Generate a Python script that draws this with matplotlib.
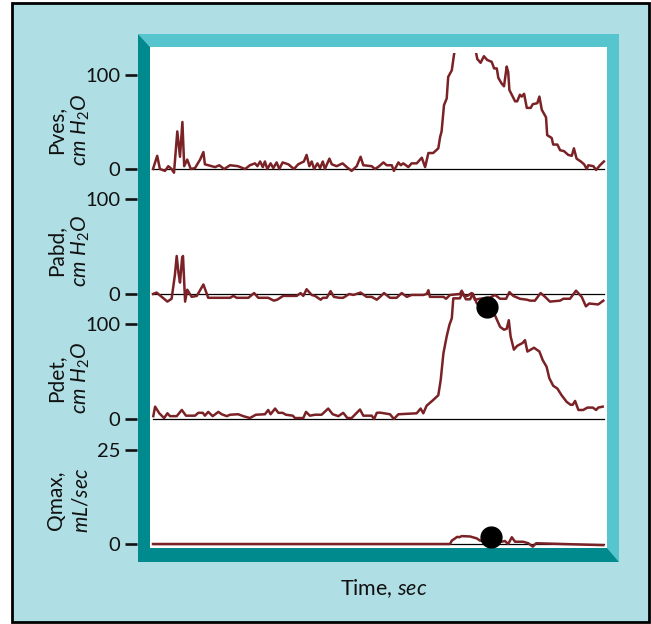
import matplotlib
matplotlib.use('Agg')
import matplotlib.pyplot as plt
from matplotlib.patches import Polygon, Rectangle

# urodynamic pressure-flow traces, time in sec
plt.rcParams['font.family'] = ['Lato', 'DejaVu Sans']
plt.rcParams['mathtext.fontset'] = 'custom'
plt.rcParams['mathtext.rm'] = 'Lato'
plt.rcParams['mathtext.it'] = 'Lato:italic'

pves_t = [0, 1.4, 2.3, 4, 5.1, 6.2, 7, 8.1, 9, 9.8, 10.4, 11.4, 12.6, 14, 15.7, 16.8, 17.3,
          19.6, 20.7, 22.1, 23.7, 25.7, 28.3, 30.7, 32.3, 34, 34.8, 35.7, 36.6, 37.3, 38.1,
          39.2, 40.1, 41.2, 42.1, 43.2, 45.1, 47, 48.4, 50.3, 51.2, 52.1, 52.9, 53.7, 54.8,
          55.7, 56.6, 57.3, 58.8, 59.6, 61.2, 63.2, 64.6, 66.2, 67.9, 69.2, 70.1, 72.9, 74,
          75.4, 76.8, 77.9, 79.6, 80.3, 81.8, 82.6, 83.4, 84.3, 85.1, 86.2, 87.9, 89.6, 90.7,
          91.8, 93.4, 95.1, 95.7, 96.2, 97, 97.9, 98.4, 99.6, 100.3, 100.8, 104, 107.3, 108.1,
          109.2, 110.3, 111.4, 112.9, 113.7, 114.6, 115.1, 116.2, 117, 117.9, 118.4, 118.8,
          119.6, 120.7, 121.4, 122.3, 122.9, 123.7, 124.6, 125.9, 126.6, 128.1, 128.8, 129.6,
          131, 131.4, 132.9, 133.4, 134.8, 135.7, 137, 138.4, 139.6, 140.3, 141.2, 142.6,
          143.7, 144.6, 145.1, 146.8, 147.7, 149, 150.3]
pves = [0, 14, 0, -2, 3, 0, -4, 40, 13, 50, 3, 10, 0, 1, 10, 18, 5,
        3, 2, 4, 0, 4, 3, 0, 4, 6, 3, 8, 2, 8, 0,
        6, 1, 7, 0, 7, 5, 0, 5, 8, 15, 3, 8, 0, 6,
        1, 8, 0, 11, 5, 3, 6, 2, -2, 3, 13, 4, 3, 0,
        3, 7, 4, 4, -2, 7, 4, 6, 4, 2, 6, 6, 12, 2,
        17, 17, 22, 34, 40, 68, 75, 98, 105, 121, 130, 165, 130, 117,
        113, 120, 116, 114, 107, 107, 97, 91, 88, 109, 103, 84,
        79, 72, 72, 79, 77, 80, 65, 65, 69, 70, 77, 63,
        55, 36, 33, 26, 26, 20, 19, 15, 14, 22, 11, 8,
        5, 0, 4, 3, -1, 4, 8]

pabd_t = [0, 1.2, 2.9, 4.8, 6.2, 7.3, 7.9, 8.5, 9, 9.7, 10, 10.7, 11.4, 12.9, 14.6, 16.8,
          18.4, 25.7, 26.8, 27.9, 31.8, 33.7, 35.1, 38.4, 40.3, 41.4, 43.4, 47.9, 49.2, 50.1,
          51.2, 52.9, 54, 55.9, 56.6, 57.9, 59.2, 60.3, 62.1, 63.4, 65.4, 66.8, 69.2, 71.2,
          72.9, 74.6, 75.7, 77, 79, 81.2, 82.9, 84.6, 86.2, 90.1, 91.2, 91.8, 92.3, 96.8,
          97.7, 99, 102.3, 102.9, 103.7, 104.8, 106.2, 107.3, 109, 112.3, 114, 115.7, 117.7,
          118.8, 120.1, 122.3, 124.6, 125.7, 127.3, 129.2, 130.7, 132.3, 135.7, 136.8, 139,
          141, 142.9, 144.3, 145.4, 148.4, 150.1]
pabd = [0, 1.5, -3, -8, -5, 20, 40, 22, 12, 38, 40, -8, 4.5, -3, -2, 10,
        -4, -4, -2, -4, -4, 1, -4, -4, -7, -6, -2, -2, 1, -2,
        5, -1, -2, -6, -4, -4, 3, -3, -4, -4, 0, -1, 1.5, -3,
        -3, -6, -3, 1, -4, -4, 1, -3, -1, -1, 0, 4, -3, -3,
        -5, -1, 0, 3.5, -2, -2, 1, -6, -5, -4, -1, -5, -5,
        2, -2, -5, -6, -7, -7, 1, -3, -8, -7, -5, -5,
        3.5, -3, -13, -10, -11, -7]

pdet_t = [0.1, 0.7, 2.1, 3.7, 4.8, 5.7, 7.9, 9.6, 11, 14, 15.1, 16.6, 17.3, 18.4, 19.9,
          21.8, 22.9, 24.6, 25.7, 28.4, 30.1, 32.3, 34.3, 37.3, 38.4, 39.2, 40.7, 41.8, 43.2,
          44.3, 46.6, 47.3, 50.1, 51, 52.3, 54, 56.2, 58.4, 59.9, 61.8, 63.4, 64.8, 66.2, 69,
          70.1, 72.9, 73.7, 74.6, 75.7, 79, 80.3, 81.8, 87.9, 89.2, 90.1, 91.2, 93.4, 95.1,
          95.9, 96.8, 97.9, 98.8, 99.6, 100.1, 102.3, 103.2, 104.3, 105.7, 106.6, 107.9, 109,
          111.3, 114, 115.7, 117, 117.9, 118.6, 119.2, 120.3, 121.4, 123.2, 124, 124.8, 125.9,
          127, 128.8, 129.9, 131.2, 132.1, 133.4, 134.8, 136.2, 137.9, 139.2, 139.9, 140.7,
          141.8, 143.4, 144.8, 146.6, 147.7, 148.4, 149.9]
pdet = [3, 13, 6, 1, 6, 3, 3, 9.5, 3.5, 3.5, 6.5, 6.5, 3.5, 7.5, 3,
        7.5, 5, 3, 4.5, 5, 3, 1, 4.5, 5, 9.5, 5, 11, 6.5, 6.5,
        4.5, 3.5, 1, 1, 7.5, 3.5, 4.5, 4.5, 11, 5, 3, 6.5, 1, 1, 10,
        3.5, 3.5, 0, 6.5, 6.7, 5, 0, 5, 6, 11, 6, 14, 20, 25,
        41, 69, 87, 99, 106, 127, 127, 133, 126, 126, 132, 122, 118,
        116, 109, 97, 94, 95, 104, 87, 73, 77, 80, 83, 71, 73,
        75, 71, 62, 55, 43, 35, 32, 25, 18, 15, 15, 19,
        9.5, 9.5, 12, 12, 9.5, 12, 13]

qmax_t = [0, 99, 99.6, 100.7, 101.4, 102.1, 102.9, 105.7, 107.9, 109, 112.3, 116.2, 117.3,
          118.4, 119.6, 120.7, 123.4, 125.1, 126.6, 127.7, 150.1]
qmax = [0, 0, 0.9, 1.5, 1.9, 1.8, 2.1, 2.0, 1.5, 0.9, 1.0, 0.6, 0.8,
        0, 1.8, 0.6, 0.6, 0.2, -0.7, 0.2, -0.3]

# marked points (peak pressure / max flow)
pdet_dot = (111.4, 118)
qmax_dot = (112.6, 1.8)

W, H = 651, 624
fig = plt.figure(figsize=(W / 100, H / 100), dpi=100, facecolor='white')


def fx(x):
    return x / W


def fy(y):
    return 1 - y / H


# background panel and bevelled frame
fig.add_artist(Rectangle((fx(12), fy(622)), fx(637), (622 - 3) / H, transform=fig.transFigure,
                         facecolor='#afdfe4', edgecolor='black', lw=2, zorder=-3))
light = [(138, 34), (619, 34), (619, 562), (607, 548), (607, 47), (150, 47)]
dark = [(138, 34), (150, 47), (150, 548), (607, 548), (619, 562), (138, 562)]
fig.add_artist(Polygon([(fx(a), fy(b)) for a, b in light], closed=True, transform=fig.transFigure,
                       facecolor='#57c5cd', edgecolor='none', zorder=-2))
fig.add_artist(Polygon([(fx(a), fy(b)) for a, b in dark], closed=True, transform=fig.transFigure,
                       facecolor='#008a8d', edgecolor='none', zorder=-2))
fig.add_artist(Rectangle((fx(150), fy(548)), fx(457), (548 - 47) / H, transform=fig.transFigure,
                         facecolor='white', edgecolor='none', zorder=-2))

red = '#7a2226'
x0, x1 = 137, 607
xlim = ((x0 - 153) / 3, (x1 - 153) / 3)


def make_ax(zero_px, px_per_unit, lo, hi, ticks):
    bottom = zero_px - lo * px_per_unit
    top = zero_px - hi * px_per_unit
    ax = fig.add_axes([fx(x0), fy(bottom), fx(x1 - x0), (bottom - top) / H])
    ax.set_facecolor('none')
    for s in ax.spines.values():
        s.set_visible(False)
    ax.set_xticks([])
    ax.set_yticks(ticks)
    ax.set_xlim(xlim)
    ax.set_ylim(lo, hi)
    ax.tick_params(axis='y', direction='out', length=8.6, width=1.9, pad=3.6,
                   labelsize=14.5, colors='#111111')
    ax.plot([0, 150.3], [0, 0], color='black', lw=0.9)
    return ax


ax1 = make_ax(169, 0.94, -6, 123, [0, 100])
ax1.plot(pves_t, pves, color=red, lw=1.8)

ax2 = make_ax(294, 0.95, -20, 105, [0, 100])
ax2.plot(pabd_t, pabd, color=red, lw=1.8)

ax3 = make_ax(419, 0.95, -5, 140, [0, 100])
ax3.plot(pdet_t, pdet, color=red, lw=1.8)
ax3.plot(*pdet_dot, 'o', color='black', ms=15)

ax4 = make_ax(544, 3.76, -2, 27, [0, 25])
ax4.plot(qmax_t, qmax, color=red, lw=1.8)
ax4.plot(*qmax_dot, 'o', color='black', ms=15)

labels = [('Pves,', r'$cm\ H_2O$', 130), ('Pabd,', r'$cm\ H_2O$', 251),
          ('Pdet,', r'$cm\ H_2O$', 378), ('Qmax,', r'$mL/sec$', 500)]
for top, bot, yc in labels:
    fig.text(fx(56), fy(yc), top, rotation=90, ha='center', va='center', fontsize=15, color='#111111')
    fig.text(fx(81), fy(yc), bot, rotation=90, ha='center', va='center', fontsize=15, color='#111111')

fig.text(fx(384), fy(589), r'Time, $sec$', ha='center', va='center', fontsize=15.5, color='#111111')

fig.savefig('out.png', dpi=100)
